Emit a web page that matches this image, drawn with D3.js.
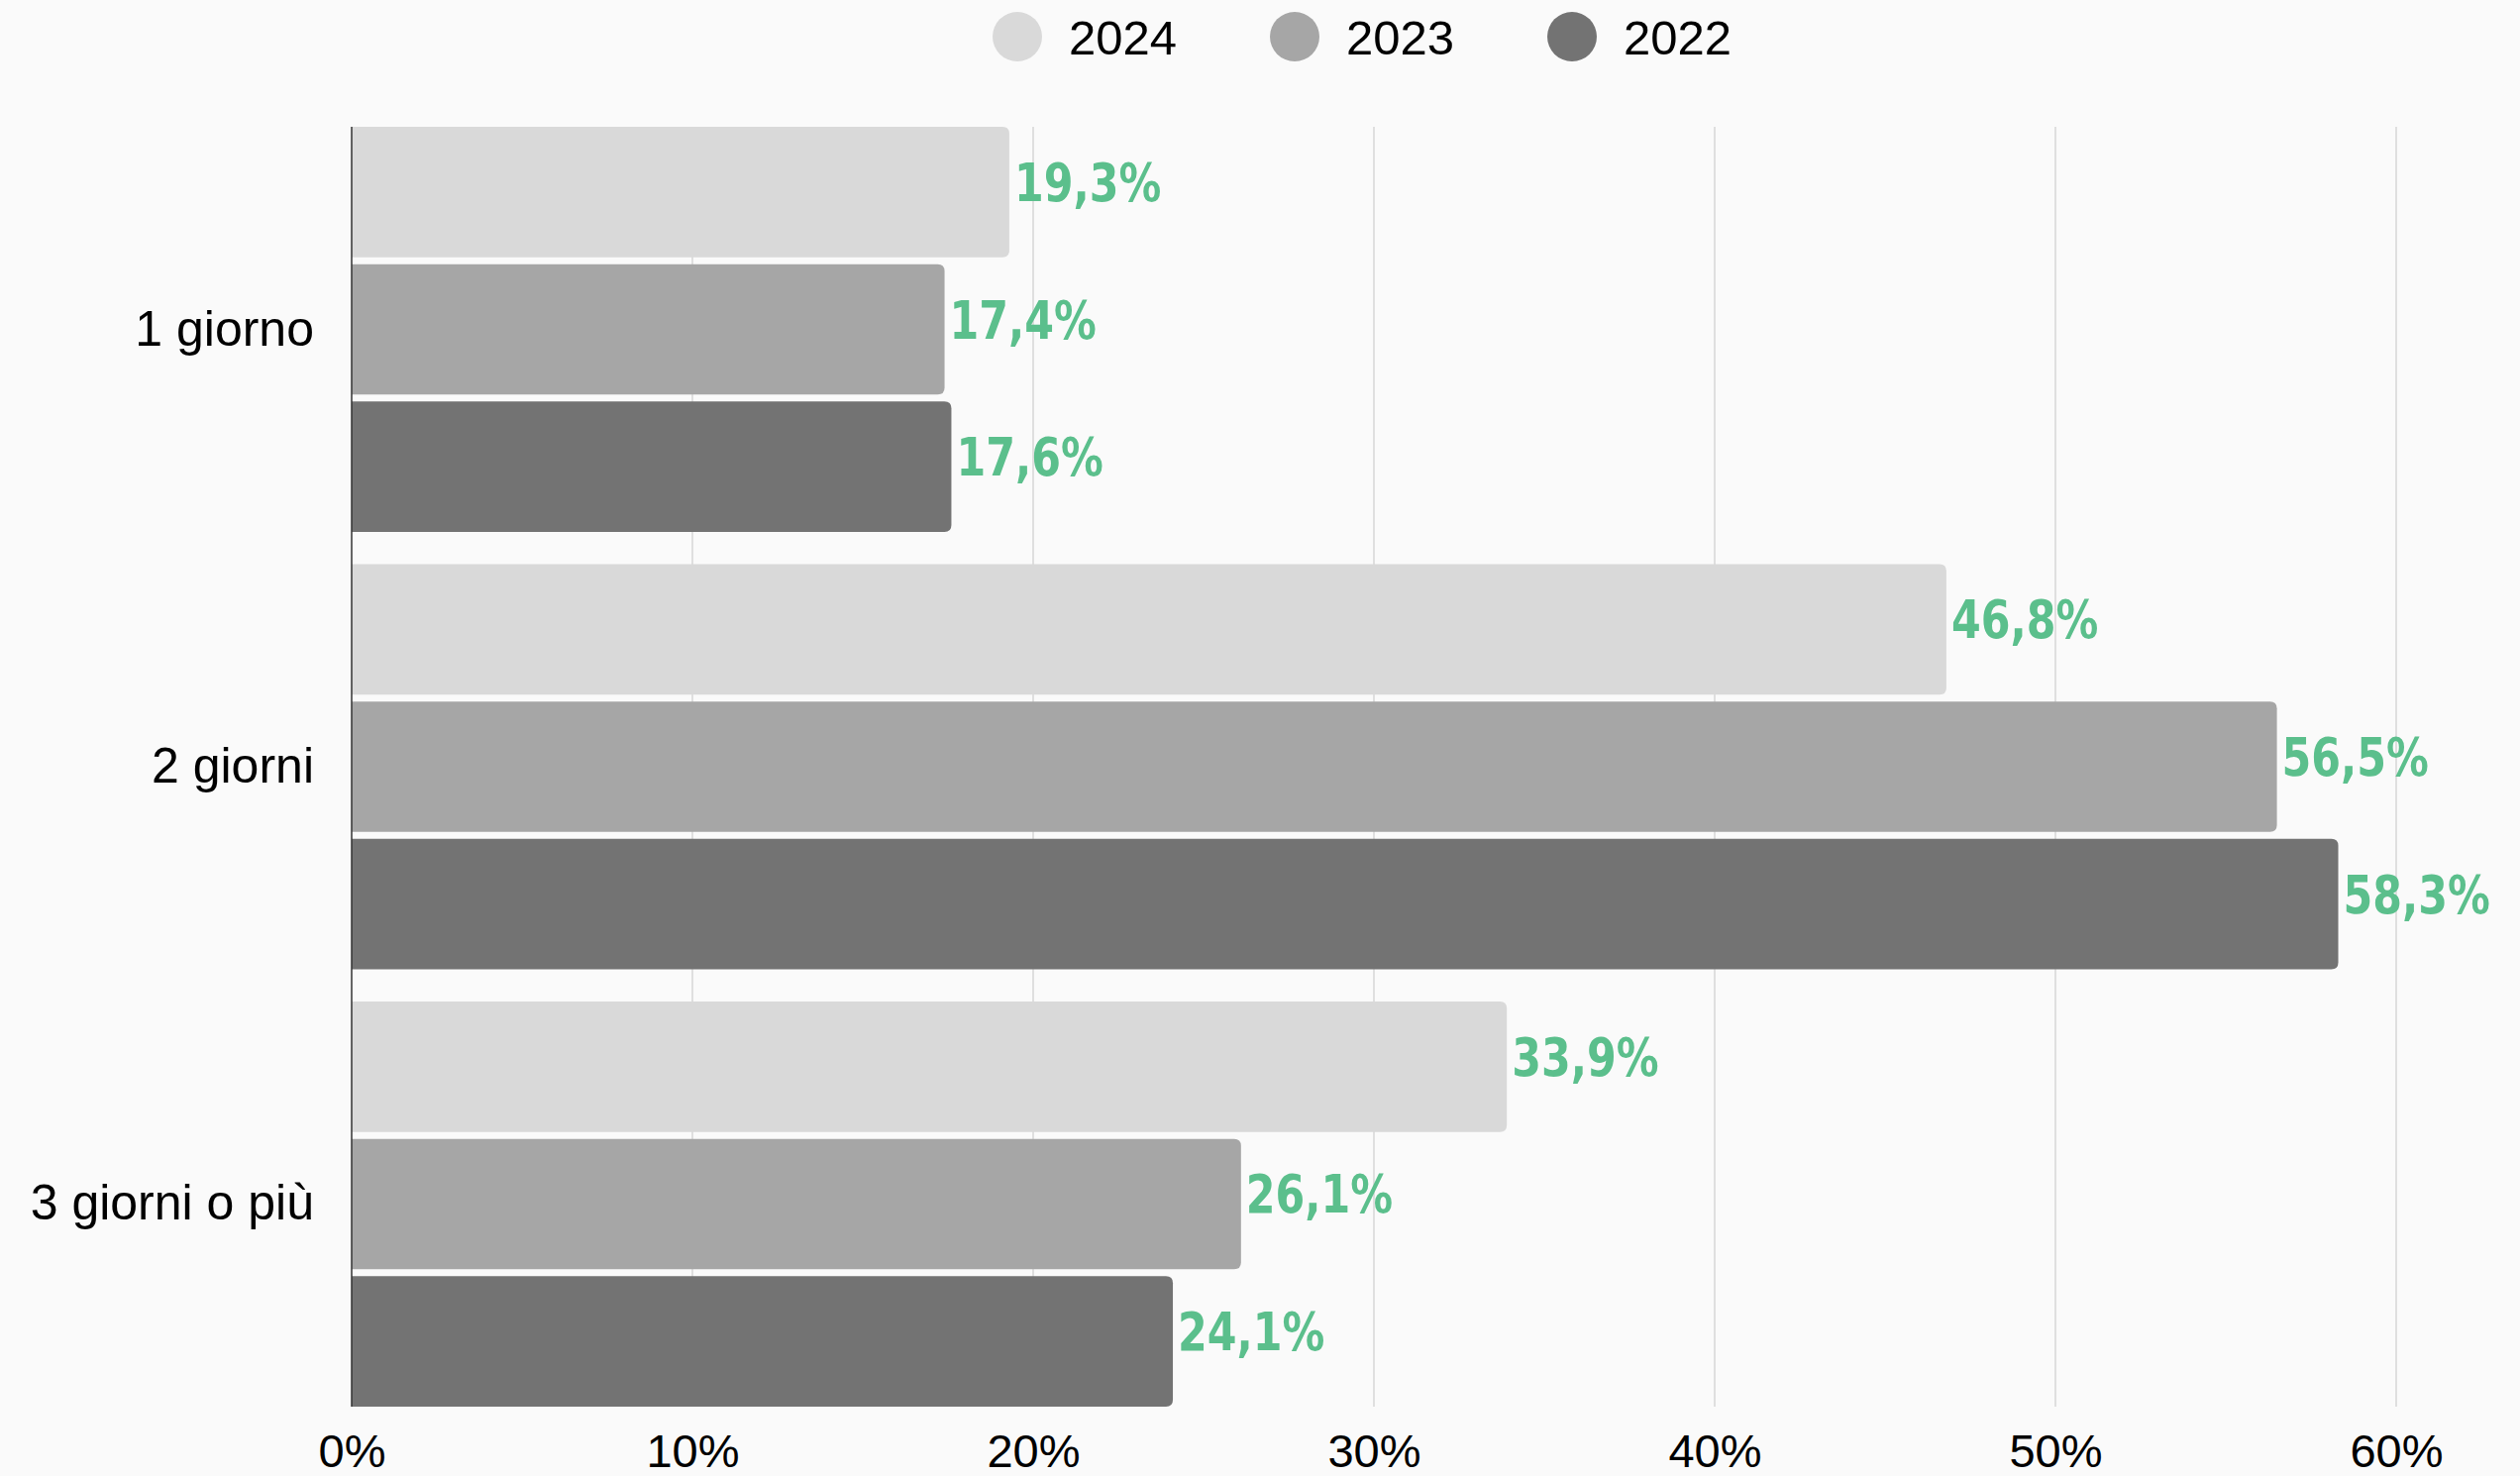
<!DOCTYPE html>
<html>
<head>
<meta charset="utf-8">
<script src="https://cdn.jsdelivr.net/npm/d3@7"></script>
<style>
  html, body { margin: 0; padding: 0; background: #fafafa; }
  svg { display: block; }
</style>
</head>
<body>
<div id="chart"></div>
<script>
// data
var categories = ["1 giorno", "2 giorni", "3 giorni o più"];
var years = ["2024", "2023", "2022"];
var values2024 = [19.3, 46.8, 33.9];
var values2023 = [17.4, 56.5, 26.1];
var values2022 = [17.6, 58.3, 24.1];
var xTicks = [0, 10, 20, 30, 40, 50, 60];

var seriesValues = { "2024": values2024, "2023": values2023, "2022": values2022 };

var width = 2544,
    height = 1490,
    plotLeft = 355,
    plotRight = 2419,
    plotTop = 128,
    plotBottom = 1420;

var color = d3.scaleOrdinal()
    .domain(years)
    .range(["#d9d9d9", "#a6a6a6", "#737373"]);

var svg = d3.select("#chart").append("svg")
    .attr("width", width)
    .attr("height", height)
    .style("background", "#fafafa");

var x = d3.scaleLinear().domain([0, 60]).range([plotLeft, plotRight]);

var y0 = d3.scaleBand()
    .domain(categories)
    .range([plotTop, plotBottom])
    .paddingInner(0.0736)
    .paddingOuter(0);

var y1 = d3.scaleBand()
    .domain(years)
    .range([0, y0.bandwidth()])
    .paddingInner(0.05);

// gridlines
svg.append("g")
    .selectAll("line")
    .data(xTicks.slice(1))
    .enter().append("line")
    .attr("x1", (d) => x(d))
    .attr("x2", (d) => x(d))
    .attr("y1", plotTop)
    .attr("y2", plotBottom)
    .attr("stroke", "#c4c4c4")
    .attr("stroke-width", 1);

// bars with rounded right end
function barPath(x0, yTop, w, h, r) {
    r = Math.min(r, w);
    return "M" + x0 + "," + yTop +
        "H" + (x0 + w - r) +
        "Q" + (x0 + w) + "," + yTop + " " + (x0 + w) + "," + (yTop + r) +
        "V" + (yTop + h - r) +
        "Q" + (x0 + w) + "," + (yTop + h) + " " + (x0 + w - r) + "," + (yTop + h) +
        "H" + x0 + "Z";
}

var rows = [];
categories.forEach((c, i) => {
    years.forEach((yr) => {
        rows.push({ category: c, year: yr, value: seriesValues[yr][i] });
    });
});

var groups = svg.append("g").selectAll("g")
    .data(categories)
    .enter().append("g")
    .attr("transform", (d) => "translate(0," + y0(d) + ")");

groups.selectAll("path")
    .data((c) => rows.filter((r) => r.category === c))
    .enter().append("path")
    .attr("d", (d) => barPath(x(0), y1(d.year), x(d.value) - x(0), y1.bandwidth(), 7))
    .attr("fill", (d) => color(d.year));

// value labels, squeezed a little to get the narrow look
groups.selectAll("text.value")
    .data((c) => rows.filter((r) => r.category === c))
    .enter().append("text")
    .attr("class", "value")
    .attr("transform", (d) => "translate(" + (x(d.value) + 5) + "," +
        (y1(d.year) + y1.bandwidth() / 2 + 9) + ") scale(0.88,1)")
    .attr("fill", "#5bbf8c")
    .style("font-family", "'DejaVu Sans Condensed', 'DejaVu Sans', sans-serif")
    .style("font-stretch", "condensed")
    .style("font-weight", "bold")
    .style("font-size", "54px")
    .text((d) => d3.format(".1f")(d.value).replace(".", ",") + "%");

// y axis
var yAxis = svg.append("g")
    .attr("transform", "translate(" + plotLeft + ",0)")
    .call(d3.axisLeft(y0).tickSize(0).tickPadding(38));
yAxis.select(".domain").attr("stroke", "#333333").attr("stroke-width", 1.5)
    .attr("d", "M0," + plotTop + "V" + plotBottom);
yAxis.selectAll("text")
    .style("font-family", "'Liberation Sans', Arial, sans-serif")
    .style("font-size", "50px")
    .attr("fill", "#000");

// x axis
var xAxis = svg.append("g")
    .attr("transform", "translate(0," + plotBottom + ")")
    .call(d3.axisBottom(x).tickValues(xTicks).tickSize(0).tickPadding(28)
        .tickFormat((d) => d + "%"));
xAxis.select(".domain").remove();
xAxis.selectAll("text")
    .style("font-family", "'Liberation Sans', Arial, sans-serif")
    .style("font-size", "47px")
    .attr("fill", "#000");

// legend
var legend = svg.append("g").selectAll("g")
    .data(years)
    .enter().append("g")
    .attr("transform", (d, i) => "translate(" + (1027 + i * 280) + ",37)");

legend.append("circle")
    .attr("r", 25)
    .attr("fill", (d) => color(d));

legend.append("text")
    .attr("x", 52)
    .attr("y", 18)
    .style("font-family", "'Liberation Sans', Arial, sans-serif")
    .style("font-size", "49px")
    .attr("fill", "#000")
    .text((d) => d);
</script>
</body>
</html>
